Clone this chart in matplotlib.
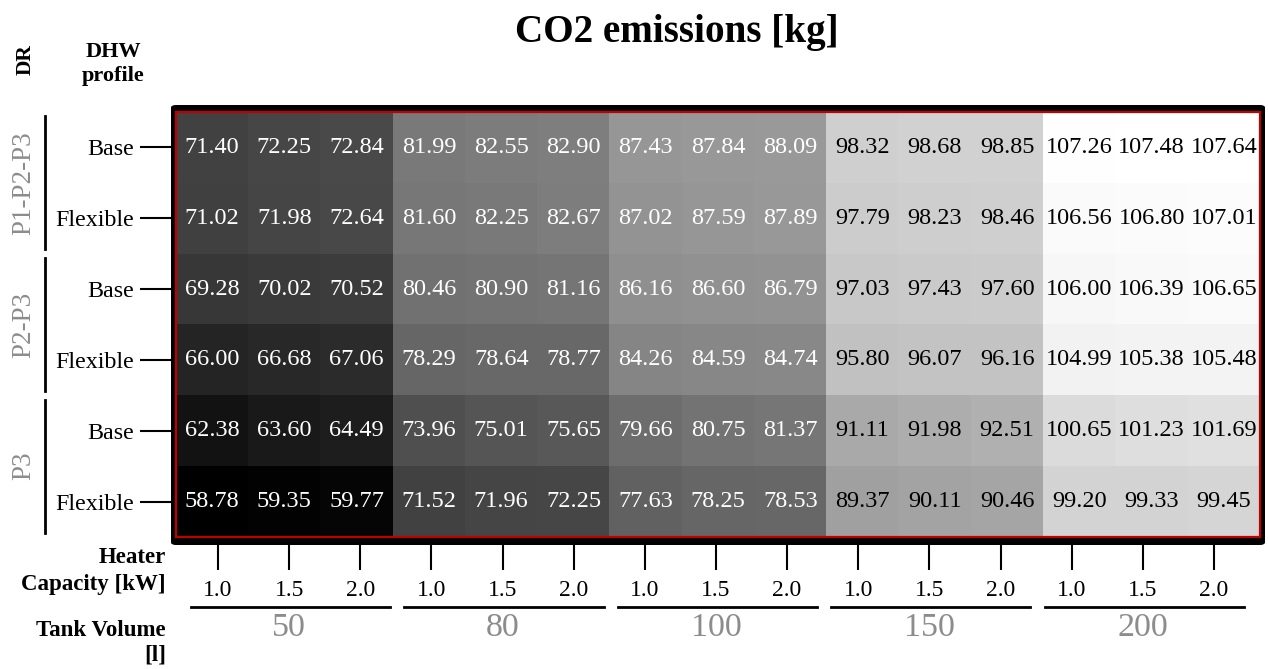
import matplotlib
matplotlib.use("Agg")
import matplotlib.pyplot as plt
import matplotlib.transforms as mtransforms
from matplotlib.patches import FancyBboxPatch
import numpy as np

# data
dr_groups = ["P1-P2-P3", "P2-P3", "P3"]
dhw_profiles = ["Base", "Flexible"]
tank_volumes = ["50", "80", "100", "150", "200"]
heater_caps = ["1.0", "1.5", "2.0"]

p123_base = [71.40, 72.25, 72.84, 81.99, 82.55, 82.90, 87.43, 87.84, 88.09, 98.32, 98.68, 98.85, 107.26, 107.48, 107.64]
p123_flex = [71.02, 71.98, 72.64, 81.60, 82.25, 82.67, 87.02, 87.59, 87.89, 97.79, 98.23, 98.46, 106.56, 106.80, 107.01]
p23_base = [69.28, 70.02, 70.52, 80.46, 80.90, 81.16, 86.16, 86.60, 86.79, 97.03, 97.43, 97.60, 106.00, 106.39, 106.65]
p23_flex = [66.00, 66.68, 67.06, 78.29, 78.64, 78.77, 84.26, 84.59, 84.74, 95.80, 96.07, 96.16, 104.99, 105.38, 105.48]
p3_base = [62.38, 63.60, 64.49, 73.96, 75.01, 75.65, 79.66, 80.75, 81.37, 91.11, 91.98, 92.51, 100.65, 101.23, 101.69]
p3_flex = [58.78, 59.35, 59.77, 71.52, 71.96, 72.25, 77.63, 78.25, 78.53, 89.37, 90.11, 90.46, 99.20, 99.33, 99.45]

data = np.array([p123_base, p123_flex, p23_base, p23_flex, p3_base, p3_flex])
n_rows, n_cols = data.shape

plt.rcParams['font.family'] = ['Liberation Serif', 'DejaVu Serif']

W, H = 1268, 669
fig = plt.figure(figsize=(W / 100, H / 100), dpi=100)
fig.patch.set_facecolor('white')

def fx(x):
    return x / W

def fy(y):
    return 1 - y / H

# black frame behind the heatmap
frame = FancyBboxPatch((fx(171), fy(545)), fx(1265) - fx(171), fy(105) - fy(545),
                       boxstyle="round,pad=0,rounding_size=0.004",
                       transform=fig.transFigure, facecolor='black', edgecolor='none', zorder=-1)
fig.patches.append(frame)

# heatmap
ax = fig.add_axes([fx(176), fy(537), fx(1260) - fx(176), fy(112) - fy(537)])
vmin, vmax = data.min(), data.max()
ax.imshow(data, cmap='gray', vmin=vmin, vmax=vmax, aspect='auto', interpolation='nearest')
for s in ax.spines.values():
    s.set_color('#c00000')
    s.set_linewidth(1.6)

for i in range(n_rows):
    for j in range(n_cols):
        v = data[i, j]
        norm = (v - vmin) / (vmax - vmin)
        ax.text(j, i, f"{v:.2f}", ha='center', va='center', fontsize=17.5,
                color='white' if norm < 0.61 else 'black')

ax.set_xticks([])
ax.set_yticks(range(n_rows))
ax.set_yticklabels(dhw_profiles * len(dr_groups))
ax.tick_params(axis='y', length=26, width=1.5, pad=4, labelsize=17.3, color='black')

# DR groups on the left
blend_y = mtransforms.blended_transform_factory(fig.transFigure, ax.transData)
for g, name in enumerate(dr_groups):
    y0 = 2 * g - 0.5 + 0.06
    y1 = 2 * g + 1.5 - 0.06
    ax.plot([fx(45), fx(45)], [y0, y1], color='black', lw=2, transform=blend_y, clip_on=False)
    ax.text(fx(24), 2 * g + 0.5, name, rotation=90, ha='center', va='center',
            fontsize=19.5, color='#8c8c8c', transform=blend_y)

# bottom axis: heater capacity ticks and tank volume groups
ax2 = fig.add_axes([fx(182.4), fy(545), fx(1249.5) - fx(182.4), fy(541) - fy(545)])
ax2.set_xlim(-0.5, n_cols - 0.5)
ax2.set_ylim(0, 1)
ax2.patch.set_visible(False)
for s in ax2.spines.values():
    s.set_visible(False)
ax2.set_xticks(range(n_cols))
ax2.set_xticklabels(heater_caps * len(tank_volumes))
ax2.tick_params(axis='x', direction='out', length=18, width=1.5, pad=7, labelsize=17)
ax2.set_yticks([])

blend_x = mtransforms.blended_transform_factory(ax2.transData, fig.transFigure)
for g, vol in enumerate(tank_volumes):
    x0 = 3 * g - 0.5 + 0.12
    x1 = 3 * g + 2.5 - 0.08
    ax2.plot([x0, x1], [fy(607), fy(607)], color='black', lw=2, transform=blend_x, clip_on=False)
    ax2.text(3 * g + 1, fy(628), vol, ha='center', va='center', fontsize=24.5,
             color='#8c8c8c', transform=blend_x)

# header labels
fig.text(fx(677), fy(42), "CO2 emissions [kg]", ha='center', va='baseline',
         fontsize=28.2, fontweight='bold')
fig.text(fx(26), fy(60), "DR", rotation=90, ha='center', va='center',
         fontsize=15.5, fontweight='bold')
fig.text(fx(113), fy(64), "DHW\nprofile", ha='center', va='center',
         fontsize=16, fontweight='bold', linespacing=1.3)
fig.text(fx(166), fy(571), "Heater\nCapacity [kW]", ha='right', va='center',
         multialignment='right', fontsize=16.5, fontweight='bold', linespacing=1.35)
fig.text(fx(166), fy(643), "Tank Volume\n[l]", ha='right', va='center',
         multialignment='right', fontsize=16.5, fontweight='bold', linespacing=1.25)

fig.savefig("out.png", dpi=100)
